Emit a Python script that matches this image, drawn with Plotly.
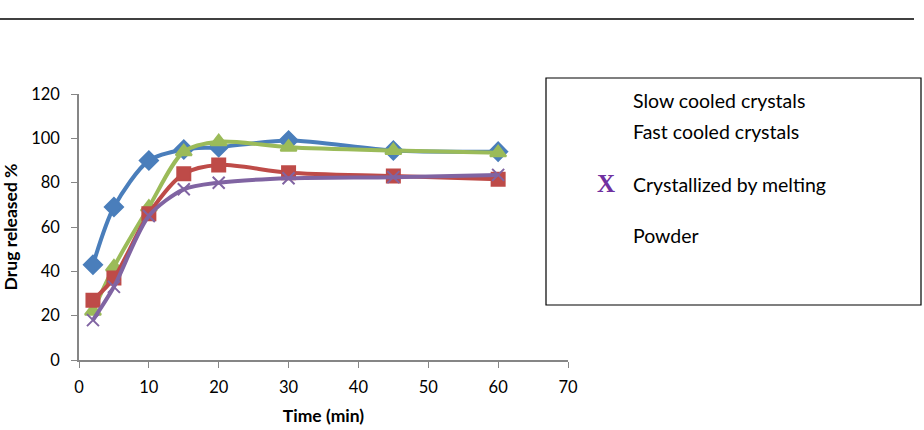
import plotly.graph_objects as go

time = [2, 5, 10, 15, 20, 30, 45, 60]
slow_cooled = [43, 69, 90, 95, 96, 99, 94.5, 94]
fast_cooled = [27, 37, 66, 84, 88, 84.5, 83, 81.5]
melting = [18, 33, 65, 77, 80, 82, 82.5, 83.5]
powder = [22, 42, 69, 94, 98.5, 96, 94.5, 93.5]
legend_labels = ["Slow cooled crystals", "Fast cooled crystals", "Crystallized by melting", "Powder"]
x_ticks = [0, 10, 20, 30, 40, 50, 60, 70]
y_ticks = [0, 20, 40, 60, 80, 100, 120]

fig = go.Figure()
series = [
    (slow_cooled, "#4A7EBB", "diamond", 14),
    (powder, "#9BBB59", "triangle-up", 14),
    (fast_cooled, "#BE4B48", "square", 13),
    (melting, "#8064A2", "x-thin", 12),
]
for vals, col, sym, sz in series:
    fig.add_trace(go.Scatter(
        x=time, y=vals, mode="lines+markers",
        line=dict(color=col, width=4, shape="spline", smoothing=0.8),
        marker=dict(symbol=sym, size=sz, color=col, line=dict(color=col, width=2)),
        showlegend=False,
    ))

FONT = "Lato, Open Sans, sans-serif"
axfont = dict(family=FONT, size=16.5, color="black")
titlefont = dict(family=FONT, size=17.5, color="black")
fig.update_layout(
    width=924, height=430,
    margin=dict(l=79, r=356, t=94, b=70),
    paper_bgcolor="white", plot_bgcolor="white",
    xaxis=dict(range=[0, 70], tickvals=x_ticks, showline=True, linecolor="#868686", linewidth=1.5,
               ticks="outside", ticklen=6, tickcolor="#868686", showgrid=False, zeroline=False,
               tickfont=axfont, ticklabelstandoff=5, automargin=False,
               title=dict(text="<b>Time (min)</b>", font=titlefont, standoff=14)),
    yaxis=dict(range=[0, 120], tickvals=y_ticks, showline=True, linecolor="#868686", linewidth=1.5,
               ticks="outside", ticklen=6, tickcolor="#868686", showgrid=False, zeroline=False,
               tickfont=axfont, ticklabelstandoff=8, automargin=False,
               title=dict(text="<b>Drug released %</b>", font=titlefont, standoff=9)),
)

def px_x(p): return (p - 79) / 489
def px_y(p): return (360 - p) / 266

# top rule line
fig.add_shape(type="line", xref="paper", yref="paper",
              x0=px_x(0), x1=px_x(914), y0=px_y(19), y1=px_y(19),
              line=dict(color="black", width=1.6))

# legend box
fig.add_shape(type="rect", xref="paper", yref="paper",
              x0=px_x(546), x1=px_x(921), y0=px_y(78), y1=px_y(305),
              line=dict(color="black", width=1.2), fillcolor="rgba(0,0,0,0)")
rows_y = [100, 131, 184, 235]
for lab, yy in zip(legend_labels, rows_y):
    fig.add_annotation(xref="paper", yref="paper", x=px_x(631), y=px_y(yy), text=lab,
                       showarrow=False, xanchor="left", yanchor="middle",
                       font=dict(family=FONT, size=19.5, color="black"))
fig.add_annotation(xref="paper", yref="paper", x=px_x(606), y=px_y(183), text="<b>X</b>",
                   showarrow=False, xanchor="center", yanchor="middle",
                   font=dict(family="Liberation Serif, serif", size=25, color="#7030A0"))

fig.write_html("out.html")
